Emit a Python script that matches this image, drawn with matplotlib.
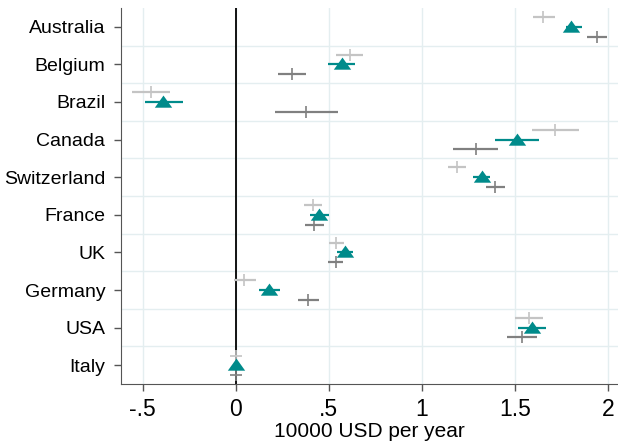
import matplotlib.pyplot as plt
import numpy as np

plt.rcParams['font.family'] = ['Liberation Sans', 'DejaVu Sans']

paises = ["Australia", "Belgium", "Brazil", "Canada", "Switzerland",
          "France", "UK", "Germany", "USA", "Italy"]

# modelo 1 (gris claro)
coef_a = [1.654, 0.614, -0.457, 1.717, 1.190, 0.414, 0.539, 0.045, 1.579, 0.0]
lo_a = [1.597, 0.541, -0.559, 1.593, 1.140, 0.364, 0.500, -0.010, 1.502, 0.0]
hi_a = [1.717, 0.686, -0.353, 1.844, 1.240, 0.464, 0.582, 0.108, 1.654, 0.0]

# modelo 2 (triangulos)
coef_b = [1.803, 0.571, -0.389, 1.511, 1.324, 0.446, 0.588, 0.179, 1.591, 0.0]
lo_b = [1.774, 0.498, -0.491, 1.396, 1.278, 0.398, 0.546, 0.122, 1.518, 0.0]
hi_b = [1.864, 0.643, -0.285, 1.629, 1.367, 0.500, 0.629, 0.238, 1.667, 0.0]

# modelo 3 (gris oscuro)
coef_c = [1.941, 0.304, 0.380, 1.290, 1.396, 0.423, 0.536, 0.390, 1.538, 0.0]
lo_c = [1.890, 0.229, 0.211, 1.168, 1.346, 0.371, 0.494, 0.337, 1.460, 0.0]
hi_c = [1.998, 0.380, 0.550, 1.412, 1.446, 0.475, 0.579, 0.449, 1.618, 0.0]

ticks_x = [-0.5, 0, 0.5, 1, 1.5, 2]
etiquetas_x = ["-.5", "0", ".5", "1", "1.5", "2"]

gris_claro = "#c4c4c4"
teal = "#008b8b"
gris_oscuro = "#808080"

# triangulo un poco aplastado
triangulo = [(-1, -0.6), (1, -0.6), (0, 0.8), (-1, -0.6)]

fig = plt.figure(figsize=(6.18, 4.41), dpi=100)
ax = fig.add_axes([0.195, 0.129, 0.805, 0.853])

y = np.arange(len(paises))
desp = 0.26

ax.hlines(y - desp, lo_a, hi_a, color=gris_claro, lw=1.6, zorder=3)
ax.plot(coef_a, y - desp, ls="none", marker="+", ms=9, mew=1.2, color=gris_claro, zorder=4)

ax.hlines(y + desp, lo_c, hi_c, color=gris_oscuro, lw=1.6, zorder=3)
ax.plot(coef_c, y + desp, ls="none", marker="+", ms=9, mew=1.2, color=gris_oscuro, zorder=4)

ax.hlines(y, lo_b, hi_b, color=teal, lw=1.6, zorder=5)
ax.plot(coef_b, y, ls="none", marker=triangulo, ms=12.5, color=teal, mew=0, zorder=6)

ax.axvline(0, color="black", lw=1.3, zorder=2)

ax.set_xlim(-0.62, 2.055)
ax.set_ylim(len(paises) - 0.5, -0.5)

ax.set_yticks(y)
ax.set_yticklabels(paises, fontsize=14)
ax.set_yticks(y[:-1] + 0.5, minor=True)
ax.set_xticks(ticks_x)
ax.set_xticklabels(etiquetas_x, fontsize=16.5)
ax.set_xlabel("10000 USD per year", fontsize=15, labelpad=1)

ax.grid(axis="x", which="major", color="#e4eef0", lw=1)
ax.grid(axis="y", which="minor", color="#e4eef0", lw=1)
ax.tick_params(axis="y", which="minor", length=0)
ax.tick_params(which="major", length=5, color="#555555", width=1)
ax.tick_params(axis="y", pad=6)
ax.tick_params(axis="x", pad=5)
ax.set_axisbelow(True)

for lado in ["top", "right"]:
    ax.spines[lado].set_visible(False)
for lado in ["left", "bottom"]:
    ax.spines[lado].set_color("#555555")

fig.savefig("out.png", dpi=100)
